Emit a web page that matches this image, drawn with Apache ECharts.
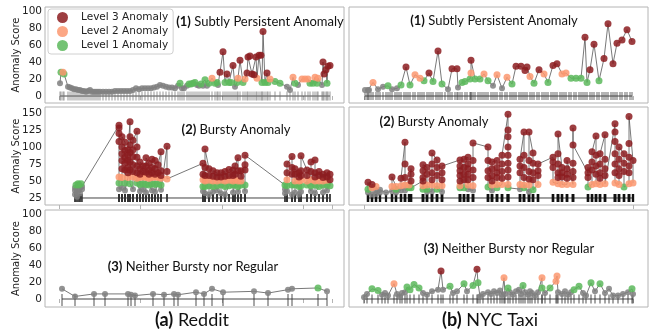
<!DOCTYPE html>
<html>
<head>
<meta charset="utf-8">
<script src="https://cdn.jsdelivr.net/npm/echarts@6/dist/echarts.min.js"></script>
<style>
  html, body { margin: 0; padding: 0; background: #fff; }
  #chart { width: 651px; height: 331px; }
</style>
</head>
<body>
<div id="chart"></div>
<script>
// points: [time index, anomaly score, level]  (level 0 = normal, 1..3 = anomaly level)
const redditPersistent = [
  [0,15,0],[1,28,1],[3,28,2],[4,26,1],[8,11,0],[10,10,0],[12,9,0],[14,8,0],[16,8,0],[18,7,0],
  [20,7,0],[22,6,0],[24,6,0],[26,5,0],[28,6,0],[30,7,0],[32,5,0],[34,5,0],[36,5,0],[38,5,0],
  [40,5,0],[43,5,0],[46,5,0],[49,5,0],[52,5,0],[55,6,0],[58,6,0],[61,6,0],[64,6,0],[67,6,0],
  [70,6,0],[73,7,0],[76,9,0],[79,8,0],[82,9,0],[85,9,0],[88,9,0],[91,9,0],[94,10,0],[97,11,0],
  [100,13,0],[103,12,0],[106,11,0],[109,10,0],[112,10,0],[115,9,0],[118,12,0],[120,15,1],[122,9,0],[124,9,0],
  [127,12,0],[129,14,1],[131,14,1],[133,15,1],[135,16,1],[137,13,0],[139,12,0],[141,14,1],[143,12,0],[145,19,1],
  [147,12,0],[149,15,1],[152,21,2],[155,15,1],[157,16,1],[158,13,0],[160,28,3],[163,52,3],[165,16,1],[167,26,3],
  [169,16,1],[171,16,1],[173,36,3],[175,11,0],[177,16,1],[178,21,2],[180,42,3],[183,16,1],[185,20,2],[187,27,3],
  [188,46,3],[190,47,3],[192,26,3],[194,25,3],[196,46,3],[197,21,2],[199,48,3],[201,48,3],[202,16,1],[203,76,3],
  [205,16,1],[207,27,3],[208,16,1],[210,20,2],[215,17,1],[220,15,1],[227,11,0],[230,7,0],[233,22,2],[235,15,1],
  [238,13,0],[242,20,2],[245,20,2],[248,20,2],[250,15,1],[253,15,1],[255,22,2],[257,15,1],[258,21,2],[262,13,0],
  [263,40,3],[264,26,3],[266,31,3],[267,15,1],[268,35,3],[270,36,3]
];

const nycPersistent = [
  [1,7,0],[4,7,0],[5,7,0],[9,16,2],[14,8,0],[19,11,0],[24,12,1],[28,8,0],[33,9,0],[37,13,1],
  [42,34,3],[46,13,1],[51,25,2],[56,21,2],[60,18,1],[65,27,3],[69,17,1],[74,53,3],[78,14,1],[84,8,0],
  [88,32,3],[93,32,3],[94,10,0],[98,16,1],[101,17,1],[106,20,1],[107,27,2],[107,42,3],[111,20,1],[116,20,1],
  [120,26,2],[124,18,1],[129,12,0],[133,25,2],[138,9,0],[143,22,2],[148,14,1],[152,35,3],[157,35,3],[161,30,3],
  [163,34,3],[166,23,2],[170,15,1],[175,31,3],[180,26,2],[184,16,1],[189,36,3],[193,38,3],[198,26,2],[202,27,2],
  [207,21,1],[212,21,1],[217,21,1],[221,69,3],[223,16,1],[226,31,3],[230,61,3],[235,18,1],[240,44,3],[244,85,3],
  [249,38,3],[253,62,3],[258,66,3],[263,78,3],[268,64,3]
];

// extra event times (no score drawn) that only show up in the rug of NYC (1)
const nycPersistentEvents = [
  3,7,12,16,22,26,31,35,40,44,49,54,58,63,67,72,76,81,86,91,96,103,109,114,118,122,127,131,136,141,
  146,150,155,159,168,173,178,182,187,191,196,200,205,210,215,219,228,233,238,242,247,251,256,261,266
];

// bursts: [time index, [scores...], [levels...]]
const redditBursty = [
  [15,[30,36,40],[0,0,0]],[16,[44],[1]],[17,[27,33],[0,0]],[18,[46],[1]],[19,[38,44],[0,1]],
  [20,[32,40],[0,0]],[21,[46],[1]],[22,[38,42],[0,0]],
  [59,[132,128,120,108,56,47,38],[3,3,3,3,2,1,0]],
  [62,[40,55,68,80,90,100,115],[0,2,3,3,3,3,3]],
  [65,[107,95,85,76,66,47,36],[3,3,3,3,3,1,0]],
  [68,[55,62,70,80,88,96],[2,3,3,3,3,3]],
  [70,[137,115,103,92,78,66,46],[3,3,3,3,3,3,1]],
  [73,[38,56,64,74,86,96,110],[0,2,3,3,3,3,3]],
  [77,[123,100,85,72,62,54,47],[3,3,3,3,3,2,1]],
  [80,[35,45,55,60,68,78],[0,1,2,3,3,3]],
  [83,[72,64,56,46,38],[3,3,2,1,0]],
  [86,[33,45,55,63,72,84],[0,1,2,3,3,3]],
  [89,[76,66,60,54,44],[3,3,3,2,1]],
  [92,[36,46,55,62,70,82],[0,1,2,3,3,3]],
  [95,[80,68,60,56,45,34],[3,3,3,2,1,0]],
  [98,[46,55,62,74],[1,2,3,3]],
  [101,[93,65,58,54,44,37],[3,3,3,2,1,0]],
  [107,[101,64,53],[3,3,2]],
  [143,[76,60,52,42,35],[3,3,2,1,0]],
  [145,[32,42,50,58,70,97],[0,1,2,3,3,3]],
  [149,[68,58,51,43,30],[3,3,2,1,0]],
  [153,[34,42,50,57,65],[0,1,2,3,3]],
  [157,[62,56,50,43,36],[3,3,2,1,0]],
  [161,[32,44,51,56,62],[0,1,2,3,3]],
  [165,[64,57,50,42,30],[3,3,2,1,0]],
  [169,[43,51,58,67],[1,2,3,3]],
  [173,[66,58,50,44,33],[3,3,2,1,0]],
  [175,[44,52,60,72],[1,2,3,3]],
  [178,[84,65,50,42,34],[3,3,2,1,0]],
  [181,[44,50,57,65],[1,2,3,3]],
  [185,[35,44,66,74,88],[0,1,3,3,3]],
  [225,[44,38,32],[1,0,0]],
  [227,[35,43,52,62,75],[0,1,2,3,3]],
  [232,[86,70,60,44,30],[3,3,3,1,0]],
  [235,[33,44,50,60,68],[0,1,2,3,3]],
  [239,[62,56,50,42,30],[3,3,2,1,0]],
  [241,[34,43,51,58,65,87],[0,1,2,3,3,3]],
  [247,[66,58,50,44],[3,3,2,1]],
  [251,[35,43,52,64,78],[0,1,2,3,3]],
  [255,[81,62,56,50,44,32],[3,3,3,2,1,0]],
  [259,[42,50,58,64],[1,2,3,3]],
  [263,[60,55,50,44,33],[3,3,2,1,0]],
  [267,[36,44,51,56,62],[0,1,2,3,3]],
  [270,[60,52,43],[3,3,1]]
];

const nycBursty = [
  [4,[38,48,33],[1,3,0]],[8,[30,40,45],[0,2,3]],[12,[42,36,31],[2,0,0]],[16,[33,37],[0,0]],[22,[33],[0]],
  [28,[35,42,56],[0,2,3]],
  [32,[42,38,33],[2,1,0]],
  [37,[36,43,54],[0,2,3]],
  [41,[107,75,55,44,36],[3,3,3,2,0]],
  [45,[40,44],[1,2]],
  [47,[68,60,50,40],[3,3,3,1]],
  [59,[50,38,43,55,65,74],[3,1,2,3,3,3]],
  [63,[70,60,44,38,34],[3,3,2,1,0]],
  [68,[35,44,52,62,75,91],[0,2,3,3,3,3]],
  [73,[81,70,58,43,38],[3,3,3,2,1]],
  [78,[34,43,52,62,72],[0,2,3,3,3]],
  [96,[81,72,65,58,50,43,40],[3,3,3,3,3,2,1]],
  [100,[40,52,60,70,82],[1,3,3,3,3]],
  [104,[85,75,68,60,52,44,38],[3,3,3,3,3,2,0]],
  [109,[36,43,55,66,80,106],[0,2,3,3,3,3]],
  [124,[100,80,65,55,41],[3,3,3,3,1]],
  [128,[36,44,50,58,68,78],[0,2,3,3,3,3]],
  [133,[80,70,62,55,45,40],[3,3,3,3,2,1]],
  [138,[45,54,64,75,88],[2,3,3,3,3]],
  [144,[148,125,115,100,88,76,66,56,45,40],[3,3,3,3,3,3,3,3,2,1]],
  [156,[38,45,62,72,82],[0,2,3,3,3]],
  [160,[122,88,70,55,44,40],[3,3,3,3,2,1]],
  [165,[34,44,53,64,80,122],[0,2,3,3,3,3]],
  [169,[91,76,62,52,37],[3,3,3,3,1]],
  [174,[45,58,65,75],[2,3,3,3]],
  [189,[85,78,70,48],[3,3,3,2]],
  [194,[46,55,62,75,90,119],[2,3,3,3,3,3]],
  [198,[70,62,56,45],[3,3,3,2]],
  [203,[45,54,60,68,80],[2,3,3,3,3]],
  [209,[45,55,64,76,128,103],[2,3,3,3,3,3]],
  [224,[62,70,55,41],[3,3,3,1]],
  [228,[45,66,78,93],[2,3,3,3]],
  [232,[116,88,72,60,46],[3,3,3,3,2]],
  [236,[45,54,62,75,90],[2,3,3,3,3]],
  [241,[118,82,68,58,46],[3,3,3,3,2]],
  [251,[134,122,108,90,75,62,47],[3,3,3,3,3,3,2]],
  [255,[45,58,68,82,100],[2,3,3,3,3]],
  [260,[90,76,64,41],[3,3,3,1]],
  [265,[46,62,72,85,105,145],[2,3,3,3,3,3]],
  [269,[80,47],[3,2]]
];

const redditNeither = [
  [2,12,0],[15,3,0],[34,6,0],[45,6,0],[68,6,0],[71,5,0],[75,4,0],[93,6,0],[104,5,0],[114,6,0],
  [118,5,0],[136,8,0],[144,6,0],[152,12,0],[163,8,0],[194,9,0],[208,7,0],[228,11,0],[232,12,0],[258,13,1],
  [267,9,0]
];

const nycNeither = [
  [0,2,0],[3,6,0],[8,12,1],[14,10,1],[18,5,0],[21,7,0],[24,4,0],[30,18,2],[33,6,0],[36,3,0],
  [38,7,0],[41,8,0],[43,14,1],[46,11,1],[50,17,1],[55,13,1],[59,7,0],[63,5,0],[68,9,0],[74,11,0],
  [77,33,3],[79,11,0],[86,15,1],[89,7,0],[93,9,0],[100,18,1],[103,9,0],[109,16,1],[113,35,3],[114,19,1],
  [116,3,0],[119,6,0],[124,8,0],[127,6,0],[130,9,0],[133,7,0],[136,10,0],[138,5,0],[140,25,2],[141,6,0],
  [144,13,1],[146,8,0],[149,5,0],[152,9,0],[155,11,0],[157,6,0],[159,16,1],[161,8,0],[164,5,0],[166,9,0],
  [168,7,0],[171,4,0],[174,8,0],[178,25,2],[178,13,1],[181,7,0],[186,13,1],[192,21,2],[193,27,2],[194,8,0],
  [198,6,0],[201,9,0],[204,5,0],[207,8,0],[210,11,1],[215,15,1],[219,7,0],[222,4,0],[227,19,1],[231,9,0],
  [236,18,1],[241,7,0],[245,12,0],[249,4,0],[254,4,0],[259,6,0],[264,8,0],[268,12,1],[269,6,0]
];

const redditTicks = [-1, 80, 162, 243, 272];
const nycTicks = [0, 269];
const scoreTicks100 = [0, 20, 40, 60, 80, 100];
const scoreTicks150 = [25, 50, 75, 100, 125, 150];

const LEVELS = [
  { name: 'Normal', color: '#808080', size: 6 },
  { name: 'Level 1 Anomaly', color: '#5cb85c', size: 7 },
  { name: 'Level 2 Anomaly', color: '#fc9870', size: 7 },
  { name: 'Level 3 Anomaly', color: '#8c1c20', size: 7 }
];

function flattenBursts(bursts) {
  const out = [];
  bursts.forEach(([t, vals, lvls]) => vals.forEach((v, i) => out.push([t, v, lvls[i]])));
  return out;
}

const FONT = 'DejaVu Sans';
const TITLE_FONT = 'Lato';

// one entry per panel (grid)
const panels = [
  { pts: redditPersistent, extra: [], left: 45, top: 7, h: 96, y: [-8.2, 104.7], yt: scoreTicks100, base: 0, xt: redditTicks, rug: [1, 9, '#777', 0.75, 0], labels: true },
  { pts: nycPersistent, extra: nycPersistentEvents, left: 349, top: 7, h: 96, y: [-8.2, 104.7], yt: scoreTicks100, base: 0, xt: nycTicks, rug: [1, 8, '#444', 0.8, 0], labels: false },
  { pts: flattenBursts(redditBursty), extra: [], left: 45, top: 107, h: 98, y: [14.7, 158.8], yt: scoreTicks150, base: 25, xt: redditTicks, rug: [1.2, 8, '#333', 0.85, 0], labels: true },
  { pts: flattenBursts(nycBursty), extra: [], left: 349, top: 107, h: 98, y: [14.7, 158.8], yt: scoreTicks150, base: 25, xt: nycTicks, rug: [2.2, 8, '#111', 0.95, 0], labels: false },
  { pts: redditNeither, extra: [], left: 45, top: 210, h: 97, y: [-9.4, 104.7], yt: scoreTicks100, base: 0, xt: redditTicks, rug: [1, 12, '#333', 0.85, 1], labels: true },
  { pts: nycNeither, extra: [], left: 349, top: 210, h: 97, y: [-9.4, 104.7], yt: scoreTicks100, base: 0, xt: nycTicks, rug: [1, 9, '#333', 0.85, 0], labels: false }
];

const grid = [], xAxis = [], yAxis = [], series = [];

panels.forEach((p, i) => {
  grid.push({ left: p.left, top: p.top, width: 299, height: p.h, show: true, borderColor: '#b4b4b4', borderWidth: 1, backgroundColor: 'transparent' });
  xAxis.push({
    type: 'value', gridIndex: i, min: -15, max: 284,
    axisLine: { show: false },
    axisTick: { show: true, length: 4, lineStyle: { color: '#b4b4b4' }, customValues: p.xt },
    axisLabel: { show: false },
    splitLine: { show: false }
  });
  yAxis.push({
    type: 'value', gridIndex: i, min: p.y[0], max: p.y[1],
    name: p.labels ? 'Anomaly Score' : '',
    nameLocation: 'middle', nameGap: 24, nameRotate: 90, nameMoveOverlap: false,
    nameTextStyle: { fontFamily: FONT, fontSize: 10, color: '#222' },
    axisLine: { show: false },
    axisTick: { show: false },
    axisLabel: { show: p.labels, customValues: p.yt, fontFamily: FONT, fontSize: 10.5, color: '#222', margin: 3 },
    splitLine: { show: false }
  });

  const ax = { xAxisIndex: i, yAxisIndex: i };
  const ts = p.pts.map(d => d[0]);
  const events = ts.concat(p.extra);
  const [rw, rh, rc, ro, roff] = p.rug;
  series.push({
    type: 'line', ...ax, silent: true, z: 1, symbol: 'none',
    data: [[Math.min(...events), p.base], [Math.max(...events), p.base]],
    lineStyle: { color: '#444', width: 1 }
  });
  series.push({
    type: 'scatter', ...ax, silent: true, z: 2,
    data: events.map(t => [t, p.base]),
    symbol: 'rect', symbolSize: [rw, rh], symbolOffset: [0, roff],
    itemStyle: { color: rc, opacity: ro }
  });
  series.push({
    type: 'line', ...ax, silent: true, z: 3, symbol: 'none',
    data: p.pts.map(d => [d[0], d[1]]),
    lineStyle: { color: '#555', width: 0.8 }
  });
  LEVELS.forEach((lv, k) => {
    series.push({
      type: 'scatter', name: lv.name, ...ax, z: 4 + k,
      data: p.pts.filter(d => d[2] === k).map(d => [d[0], d[1]]),
      symbolSize: lv.size,
      itemStyle: { color: lv.color, opacity: 0.85 }
    });
  });
});

function label(x, y, num, text, size) {
  return {
    type: 'text', x: x, y: y, z: 100,
    style: {
      text: '{b|' + num + '} ' + text,
      align: 'center', verticalAlign: 'middle',
      fontFamily: TITLE_FONT, fontSize: size, fill: '#111',
      rich: { b: { fontFamily: TITLE_FONT, fontSize: size, fontWeight: 'bold', fill: '#111' } }
    }
  };
}

const chart = echarts.init(document.getElementById('chart'));
chart.setOption({
  animation: false,
  backgroundColor: '#fff',
  grid, xAxis, yAxis, series,
  legend: {
    data: ['Level 3 Anomaly', 'Level 2 Anomaly', 'Level 1 Anomaly'],
    orient: 'vertical', left: 48, top: 9,
    icon: 'circle', itemWidth: 11, itemHeight: 11, itemGap: 3,
    padding: [3, 5, 3, 9],
    borderColor: '#d0d0d0', borderWidth: 1, borderRadius: 3,
    backgroundColor: 'rgba(255,255,255,0.85)',
    textStyle: { fontFamily: FONT, fontSize: 10.5, color: '#222', padding: [0, 0, 0, 8] }
  },
  graphic: [
    label(260, 22, '(1)', 'Subtly Persistent Anomaly', 13),
    label(494, 21, '(1)', 'Subtly Persistent Anomaly', 13),
    label(236, 130, '(2)', 'Bursty Anomaly', 13),
    label(434, 122, '(2)', 'Bursty Anomaly', 13),
    label(193, 267, '(3)', 'Neither Bursty nor Regular', 13),
    label(509, 249, '(3)', 'Neither Bursty nor Regular', 13),
    label(192, 320, '(a)', 'Reddit', 18),
    label(490, 320, '(b)', 'NYC Taxi', 18)
  ]
});
</script>
</body>
</html>
